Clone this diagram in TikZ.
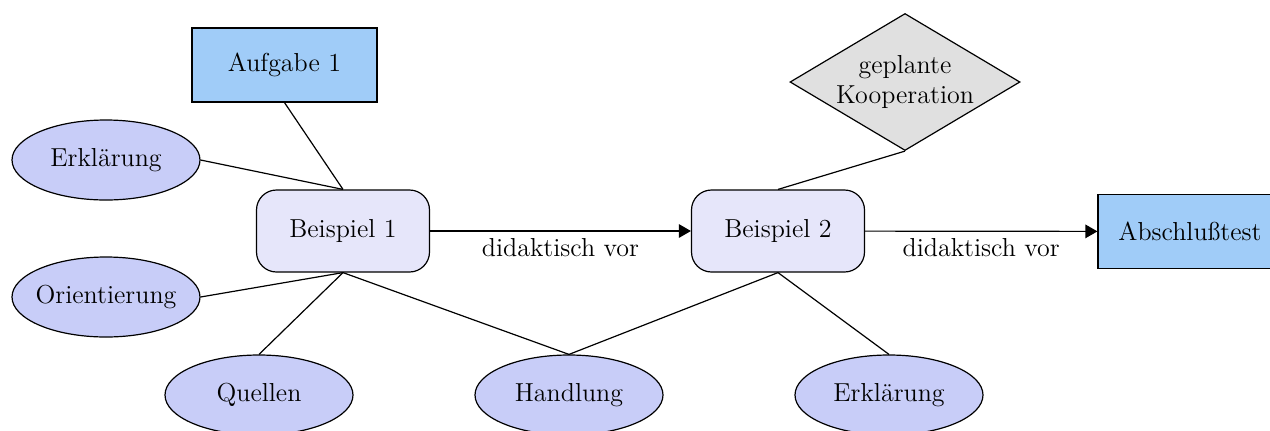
\documentclass[tikz,border=0pt]{standalone}
\usepackage{fontspec}
\usepackage{tikz}
\usetikzlibrary{arrows,shapes.geometric}
\definecolor{taskblue}{RGB}{160,204,248}
\definecolor{exlav}{RGB}{230,230,250}
\definecolor{topicblue}{RGB}{200,205,248}
\definecolor{coopgray}{RGB}{224,224,224}

\begin{document}
\begin{tikzpicture}[x=0.5pt, y=-0.5pt, line width=0.6pt,
  font=\fontsize{13}{15}\selectfont,
  task/.style={rectangle, draw, fill=taskblue, minimum width=92.5pt, minimum height=37pt},
  example/.style={rectangle, rounded corners=10pt, draw, fill=exlav, minimum width=86.5pt, minimum height=41pt},
  topic/.style={ellipse, draw, fill=topicblue, inner sep=0pt, minimum width=94pt, minimum height=40pt},
  coop/.style={diamond, shape aspect=1.7, draw, fill=coopgray, inner sep=0pt, align=center, minimum width=115pt, minimum height=68.5pt}]
  \useasboundingbox (0,0) rectangle (1270,430);
  \node[task] (a1) at (284.5,65) {Aufgabe 1};
  \node[example] (b1) at (343,231) {Beispiel 1};
  \node[example] (b2) at (778,231) {Beispiel 2};
  \node[task, minimum width=92pt] (test) at (1190,231.5) {Abschlußtest};
  \node[coop] (coop) at (905,82) {geplante\\Kooperation};
  \node[topic] (erk1) at (106,160) {Erklärung};
  \node[topic, inner xsep=-2pt] (orient) at (106,297) {Orientierung};
  \node[topic] (quell) at (259,395) {Quellen};
  \node[topic] (handl) at (569,395) {Handlung};
  \node[topic] (erk2) at (889,395) {Erklärung};
  \path[-triangle 60]
  (b1) edge node [below] {didaktisch vor} (b2)
  (b2) edge node [below] {didaktisch vor} (test)
  ;
  \path
  (a1.south) edge (b1.north)
  (erk1.east) edge (b1.north)
  (orient.east) edge (b1.south)
  (quell.north) edge (b1.south)
  (handl.north) edge (b1.south)
  (handl.north) edge (b2.south)
  (erk2.north) edge (b2.south)
  (coop.south) edge (b2.north)
  ;
\end{tikzpicture}
\end{document}
